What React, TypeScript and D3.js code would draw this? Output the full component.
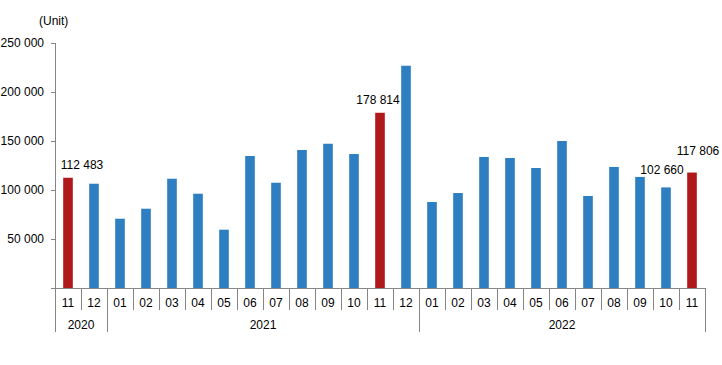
import React, { useEffect, useRef } from 'react'
import * as d3 from 'd3'

// monthly values (units), Nov 2020 - Nov 2022
const months = ['11', '12', '01', '02', '03', '04', '05', '06', '07', '08', '09', '10', '11', '12',
  '01', '02', '03', '04', '05', '06', '07', '08', '09', '10', '11']
const years = ['2020', '2020', '2021', '2021', '2021', '2021', '2021', '2021', '2021', '2021', '2021', '2021', '2021', '2021',
  '2022', '2022', '2022', '2022', '2022', '2022', '2022', '2022', '2022', '2022', '2022']
const values = [112483, 106400, 70700, 80900, 111500, 96200, 59500, 134700, 107400, 140800, 147200, 136700, 178814, 226800,
  87750, 96900, 133700, 132650, 122450, 150000, 93900, 123500, 113300, 102660, 117806]
const highlighted = [0, 12, 24]
const labelled = [0, 12, 23, 24]
const yTicks = [0, 50000, 100000, 150000, 200000, 250000]

function App() {
  const ref = useRef<SVGSVGElement>(null)

  useEffect(() => {
    document.body.style.margin = '0'
    const svg = d3.select(ref.current)
    svg.selectAll('*').remove()

    const left = 55, right = 705, top = 43, bottom = 288
    const axisColor = '#868686'
    const font = 'Liberation Sans, Arial, sans-serif'

    const x = d3.scaleBand<number>()
      .domain(d3.range(values.length))
      .range([left, right])
      .paddingInner(0.63)
      .paddingOuter(0.315)

    const y = d3.scaleLinear().domain([0, 250000]).range([bottom, top])
    const fmt = (v: number) => d3.format(',')(v).replace(/,/g, ' ')

    // y axis
    const yAxis = svg.append('g')
      .attr('transform', `translate(${left},0)`)
      .call(d3.axisLeft(y).tickValues(yTicks.slice(1)).tickSize(4).tickPadding(7).tickFormat(d => fmt(+d)))
    yAxis.select('.domain').remove()
    yAxis.selectAll('line').attr('stroke', axisColor)
    yAxis.selectAll('text').attr('font-family', font).attr('font-size', 12).attr('fill', '#000')
    svg.append('line')
      .attr('x1', left + 0.5).attr('x2', left + 0.5)
      .attr('y1', y(250000)).attr('y2', bottom)
      .attr('stroke', axisColor)

    // x axis baseline
    svg.append('line')
      .attr('x1', left - 4).attr('x2', right)
      .attr('y1', bottom + 0.5).attr('y2', bottom + 0.5)
      .attr('stroke', axisColor)

    svg.append('text')
      .attr('x', 39).attr('y', 25)
      .attr('font-family', font).attr('font-size', 12)
      .text('(Unit)')

    // bars
    svg.append('g')
      .selectAll('rect')
      .data(values)
      .enter()
      .append('rect')
      .attr('x', (d, i) => x(i)!)
      .attr('width', x.bandwidth())
      .attr('y', d => y(d))
      .attr('height', d => bottom - y(d))
      .attr('fill', (d, i) => highlighted.includes(i) ? '#b0191c' : '#2e7fc1')

    // value labels (small nudges where the original shifted them)
    const nudge: Record<number, [number, number]> = { 0: [14, -9], 12: [-2, -9], 23: [-4, -13], 24: [6, -18] }
    svg.append('g')
      .selectAll('text')
      .data(labelled)
      .enter()
      .append('text')
      .attr('x', i => x(i)! + x.bandwidth() / 2 + nudge[i][0])
      .attr('y', i => y(values[i]) + nudge[i][1])
      .attr('text-anchor', 'middle')
      .attr('font-family', font).attr('font-size', 12)
      .text(i => fmt(values[i]))

    // month labels and separators
    const step = x.step()
    svg.append('g')
      .selectAll('text')
      .data(months)
      .enter()
      .append('text')
      .attr('x', (d, i) => x(i)! + x.bandwidth() / 2)
      .attr('y', 307)
      .attr('text-anchor', 'middle')
      .attr('font-family', font).attr('font-size', 12)
      .text(d => d)

    const bounds = d3.range(values.length + 1)
    svg.append('g')
      .selectAll('line')
      .data(bounds)
      .enter()
      .append('line')
      .attr('x1', i => Math.round(left + i * step) + 0.5)
      .attr('x2', i => Math.round(left + i * step) + 0.5)
      .attr('y1', bottom)
      .attr('y2', i => (i === 0 || i === values.length || years[i] !== years[i - 1]) ? 332 : 310)
      .attr('stroke', axisColor)

    // year labels
    const yearGroups = d3.groups(years.map((yr, i) => ({ yr, i })), d => d.yr)
    svg.append('g')
      .selectAll('text')
      .data(yearGroups)
      .enter()
      .append('text')
      .attr('x', g => {
        const first = g[1][0].i, last = g[1][g[1].length - 1].i
        return left + ((first + last + 1) / 2) * step
      })
      .attr('y', 329)
      .attr('text-anchor', 'middle')
      .attr('font-family', font).attr('font-size', 12)
      .text(g => g[0])
  }, [])

  return <svg ref={ref} width={722} height={365} style={{ display: 'block', background: '#fff' }} />
}

export default App
